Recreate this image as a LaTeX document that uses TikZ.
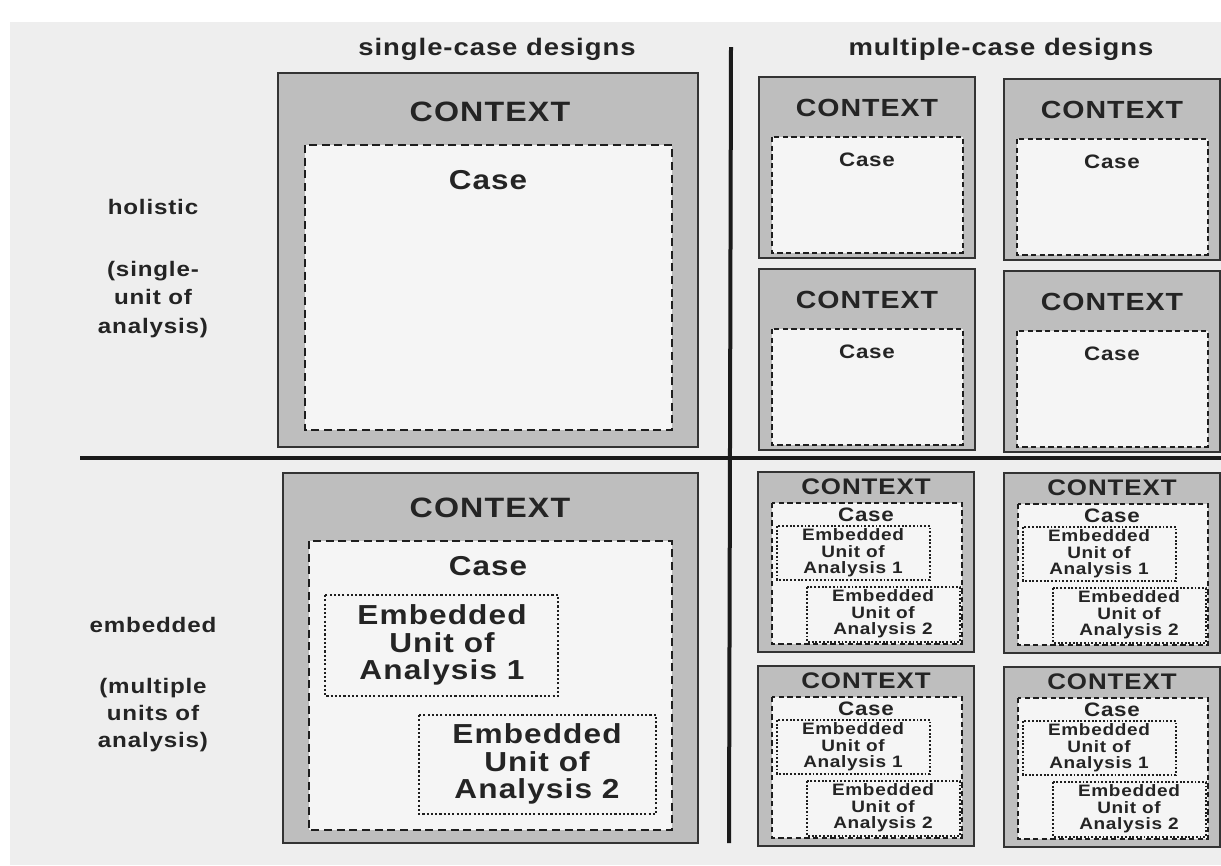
\documentclass[tikz,border=0pt]{standalone}
\usepackage{fontspec}
\setmainfont{Liberation Sans}[FakeStretch=1.15,LetterSpace=4]
\definecolor{bgcol}{HTML}{EEEEEE}
\definecolor{ctxgray}{HTML}{BEBEBE}
\definecolor{boxline}{HTML}{333333}
\definecolor{dashcol}{HTML}{1E1E1E}
\definecolor{casefill}{HTML}{F5F5F5}
\definecolor{textcol}{HTML}{242424}
\definecolor{rulecol}{HTML}{1A1A1A}
\tikzset{
  ctx/.style={draw=boxline, line width=1.6pt, fill=ctxgray},
  casebig/.style={draw=dashcol, line width=1.6pt, dash pattern=on 6pt off 3.5pt, fill=casefill},
  casesm/.style={draw=dashcol, line width=1.2pt, dash pattern=on 4pt off 2.5pt, fill=casefill},
  unitbig/.style={draw=dashcol, line width=1.1pt, dash pattern=on 1.6pt off 1.6pt, fill=casefill},
  unitsm/.style={draw=dashcol, line width=0.9pt, dash pattern=on 1.4pt off 1.4pt, fill=casefill},
  txt/.style={text=textcol, inner sep=0pt, align=center},
  headt/.style={txt, anchor=base, font=\fontsize{17.9pt}{20pt}\selectfont\bfseries},
  labt/.style={txt, anchor=base, font=\fontsize{15.75pt}{20pt}\selectfont\bfseries},
  ctxbigt/.style={txt, font=\fontsize{21pt}{24pt}\selectfont\bfseries},
  casebigt/.style={txt, font=\fontsize{20.5pt}{24pt}\selectfont\bfseries},
  unitbigt/.style={txt, font=\fontsize{20.6pt}{20.6pt}\selectfont\bfseries},
  ctxsmt/.style={txt, font=\fontsize{18.6pt}{20pt}\selectfont\bfseries},
  ctxsmet/.style={txt, font=\fontsize{16.9pt}{18pt}\selectfont\bfseries},
  casesmt/.style={txt, font=\fontsize{14.6pt}{16pt}\selectfont\bfseries},
  unitsmt/.style={txt, font=\fontsize{12.4pt}{12.4pt}\selectfont\bfseries},
  holpic/.pic={
    \path[ctx] (0,0) rectangle (216,181);
    \path[casesm] (13,60) rectangle (204,176);
    \node[ctxsmt] (ctx) at (108,31) {CONTEXT};
    \node[casesmt] (case) at (108,83) {Case};
  },
  embpic/.pic={
    \path[ctx] (0,0) rectangle (216,180);
    \path[casesm] (14,31) rectangle (204,172);
    \path[unitsm] (19,54) rectangle (172,108);
    \path[unitsm] (49,115) rectangle (202,170);
    \node[ctxsmet] (ctx) at (108,15) {CONTEXT};
    \node[casesmt] (case) at (108,43) {Case};
    \node[unitsmt] (u1) at (95,81) {Embedded\\Unit of\\Analysis 1};
    \node[unitsmt] (u2) at (125,142) {Embedded\\Unit of\\Analysis 2};
  }
}
\begin{document}
\begin{tikzpicture}[x=0.75pt,y=-0.75pt]
\useasboundingbox (0,0) rectangle (1221,865);
\fill[white] (0,0) rectangle (1221,865);
\fill[bgcol] (10,22) rectangle (1221,865);

% headers
\node[headt] (hsingle) at (497,55) {single-case designs};
\node[headt] (hmulti) at (1001,55) {multiple-case designs};

% row labels
\node[labt] (hol) at (153,214) {holistic};
\node[labt] (hol1) at (153,276) {(single-};
\node[labt] (hol2) at (153,304) {unit of};
\node[labt] (hol3) at (153,333) {analysis)};
\node[labt] (emb) at (153,632) {embedded};
\node[labt] (emb1) at (153,693) {(multiple};
\node[labt] (emb2) at (153,720) {units of};
\node[labt] (emb3) at (153,747) {analysis)};

% dividing lines
\coordinate (vtop) at (731,47);
\coordinate (vbot) at (729,843);
\coordinate (hl) at (80,458);
\coordinate (hr) at (1221,458);
\draw[rulecol, line width=3pt] (vtop) -- (vbot);
\draw[rulecol, line width=3pt] (hl) -- (hr);

% single-case holistic
\path[ctx] (278,73) rectangle (698,447);
\path[casebig] (305,145) rectangle (672,430);
\node[ctxbigt] (ctxA) at (490,112) {CONTEXT};
\node[casebigt] (caseA) at (488,180) {Case};

% single-case embedded
\path[ctx] (283,473) rectangle (698,843);
\path[casebig] (309,541) rectangle (672,830);
\path[unitbig] (325,595) rectangle (558,696);
\path[unitbig] (419,715) rectangle (656,814);
\node[ctxbigt] (ctxB) at (490,508) {CONTEXT};
\node[casebigt] (caseB) at (488,566) {Case};
\node[unitbigt] (uB1) at (442,645) {Embedded\\Unit of\\Analysis 1};
\node[unitbigt] (uB2) at (537,764) {Embedded\\Unit of\\Analysis 2};

% multiple-case holistic
\pic (mA) at (759,77) {holpic};
\pic (mB) at (1004,79) {holpic};
\pic (mC) at (759,269) {holpic};
\pic (mD) at (1004,271) {holpic};

% multiple-case embedded
\pic (eA) at (758,472) {embpic};
\pic (eB) at (1004,473) {embpic};
\pic (eC) at (758,666) {embpic};
\pic (eD) at (1004,667) {embpic};
\end{tikzpicture}
\end{document}
